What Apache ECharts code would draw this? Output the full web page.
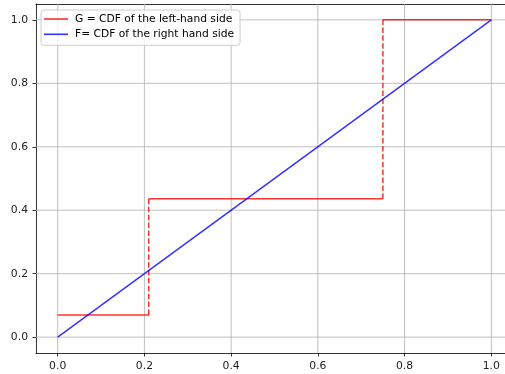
<!DOCTYPE html>
<html><head><meta charset="utf-8">
<script src="https://cdn.jsdelivr.net/npm/echarts@6/dist/echarts.min.js"></script>
<style>html,body{margin:0;padding:0;background:#fff}#c{width:505px;height:374px}</style>
</head><body><div id="c"></div>
<script>
const xTicks = [0, 0.2, 0.4, 0.6, 0.8, 1.0];
const yTicks = [0, 0.2, 0.4, 0.6, 0.8, 1.0];
const gStepX = [0, 0.21, 0.75, 1.0];
const gLevels = [0.07, 0.436, 1.0];
const fX = [0, 1];
const fY = [0, 1];
const gName = 'G = CDF of the left-hand side';
const fName = 'F= CDF of the right hand side';

const RED = 'rgba(255,0,0,0.8)';
const BLUE = 'rgba(0,0,255,0.8)';
const FONT = 'DejaVu Sans';
const series = [];

// grid lines, drawn through the outer axes
xTicks.forEach(v => series.push({type:'line', xAxisIndex:0, yAxisIndex:0, silent:true, symbol:'none', clip:false,
  data:[[v,-0.05],[v,1.05]], lineStyle:{color:'#b0b0b0', width:0.8}, z:1}));
yTicks.forEach(v => series.push({type:'line', xAxisIndex:0, yAxisIndex:0, silent:true, symbol:'none', clip:false,
  data:[[-0.05,v],[1.05,v]], lineStyle:{color:'#b0b0b0', width:0.8}, z:1}));

// G: horizontal solid levels
for (let i = 0; i < gLevels.length; i++) {
  series.push({name:gName, type:'line', xAxisIndex:0, yAxisIndex:0, symbol:'none', z:3, clip:false,
    data:[[gStepX[i], gLevels[i]], [gStepX[i+1], gLevels[i]]],
    lineStyle:{color:RED, width:1.5}, itemStyle:{color:RED}});
}
// G: vertical dashed jumps
for (let i = 1; i < gLevels.length; i++) {
  series.push({name:'jump'+i, type:'line', xAxisIndex:0, yAxisIndex:0, symbol:'none', z:3, clip:false,
    data:[[gStepX[i], gLevels[i-1]], [gStepX[i], gLevels[i]]],
    lineStyle:{color:RED, width:1.5, type:[5.5,2.4]}});
}
// F
series.push({name:fName, type:'line', xAxisIndex:0, yAxisIndex:0, symbol:'none', z:4, clip:false,
  data: fX.map((x,i)=>[x, fY[i]]), lineStyle:{color:BLUE, width:1.5}, itemStyle:{color:BLUE}});

const labelStyle = {fontFamily:FONT, fontSize:10.8, color:'#222'};
const spine = {show:true, onZero:false, lineStyle:{color:'#000', width:0.8}};
const hiddenLine = {show:true, onZero:false, lineStyle:{color:'rgba(0,0,0,0)', width:0.8}};
const tick = {show:true, inside:false, length:3.5, lineStyle:{color:'#000', width:0.8}};
const chart = echarts.init(document.getElementById('c'), null, {renderer:'canvas'});
chart.setOption({
  animation:false,
  backgroundColor:'#fff',
  grid:[
    {left:36, top:4, right:-8, bottom:21, show:false, outerBoundsMode:'none', containLabel:false},
    {left:57.7, top:4, right:13.7, bottom:21, show:false, outerBoundsMode:'none', containLabel:false},
    {left:36, top:19.86, right:-8, bottom:36.84, show:false, outerBoundsMode:'none', containLabel:false}
  ],
  xAxis:[
    {type:'value', gridIndex:0, min:-0.05, max:1.05, position:'bottom', axisLine:spine,
      axisTick:{show:false}, axisLabel:{show:false}, splitLine:{show:false}},
    {type:'value', gridIndex:1, min:0, max:1, interval:0.2, position:'bottom',
      axisLine:hiddenLine, splitLine:{show:false}, axisTick:tick,
      axisLabel:{...labelStyle, margin:8, formatter:v=>v.toFixed(1)}},
    {type:'value', gridIndex:2, min:0, max:1, show:false},
    {type:'value', gridIndex:0, min:-0.05, max:1.05, position:'top', axisLine:spine,
      axisTick:{show:false}, axisLabel:{show:false}, splitLine:{show:false}}
  ],
  yAxis:[
    {type:'value', gridIndex:0, min:-0.05, max:1.05, position:'left', axisLine:spine,
      axisTick:{show:false}, axisLabel:{show:false}, splitLine:{show:false}},
    {type:'value', gridIndex:1, min:0, max:1, show:false},
    {type:'value', gridIndex:2, min:0, max:1, interval:0.2, position:'left',
      axisLine:hiddenLine, splitLine:{show:false}, axisTick:tick,
      axisLabel:{...labelStyle, margin:8, formatter:v=>v.toFixed(1)}}
  ],
  legend:{
    data:[gName, fName], orient:'vertical', left:41, top:10,
    icon:'rect', itemWidth:24, itemHeight:1.6, itemGap:3.3, padding:[3,6,5,3],
    borderColor:'#cccccc', borderWidth:1, borderRadius:3, backgroundColor:'rgba(255,255,255,0.8)',
    textStyle:{fontFamily:FONT, fontSize:10.7, lineHeight:12, color:'#000', padding:[0,0,0,2]}, selectedMode:false
  },
  series: series
});
</script></body></html>
